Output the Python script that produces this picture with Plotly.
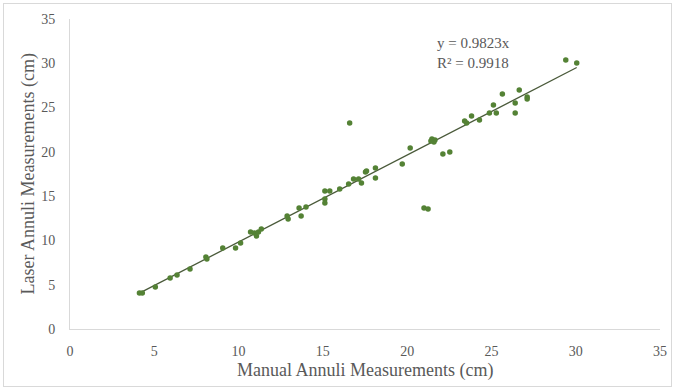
import plotly.graph_objects as go

manual = [4.12, 4.29, 5.06, 5.94, 6.35, 7.12, 8.06, 8.12, 9.06, 9.82, 10.12, 10.71, 10.94, 11.06, 11.18, 11.35,
          12.88, 12.94, 13.59, 14.0, 13.71, 15.12, 15.41, 15.12, 15.12, 16.0, 16.53, 16.82, 17.12, 17.29, 17.53,
          17.59, 18.12, 18.12, 16.59, 19.71, 20.18, 21.47, 21.65, 21.59, 21.41, 22.12, 22.53, 21.0, 21.24,
          23.41, 23.53, 23.82, 24.29, 24.88, 25.12, 25.29, 25.65, 26.41, 26.41, 26.65, 27.12, 27.12, 29.41, 30.06]
laser = [4.06, 4.06, 4.74, 5.76, 6.10, 6.77, 8.13, 7.90, 9.15, 9.15, 9.71, 10.95, 10.84, 10.50, 10.95, 11.29,
         12.76, 12.42, 13.66, 13.77, 12.76, 15.58, 15.58, 14.68, 14.23, 15.81, 16.37, 16.94, 16.94, 16.48, 17.73,
         17.84, 18.18, 17.05, 23.26, 18.63, 20.44, 21.45, 21.34, 21.11, 21.23, 19.76, 19.98, 13.66, 13.55,
         23.48, 23.26, 24.05, 23.60, 24.39, 25.29, 24.39, 26.53, 25.52, 24.39, 26.98, 26.19, 25.97, 30.37, 30.03]
slope = 0.9823
r2 = 0.9918
tick_vals = [0, 5, 10, 15, 20, 25, 30, 35]

xmin, xmax = min(manual), max(manual)
fit_x = [xmin, xmax]
fit_y = [slope * v for v in fit_x]

font_family = "Liberation Serif, Times New Roman, serif"
gray = "#595959"

fig = go.Figure()
fig.add_trace(go.Scatter(x=fit_x, y=fit_y, mode="lines",
                         line=dict(color="#4a5a3a", width=1.3), showlegend=False, hoverinfo="skip"))
fig.add_trace(go.Scatter(x=manual, y=laser, mode="markers",
                         marker=dict(color="#548235", size=5.5, line=dict(width=0)), showlegend=False))

fig.update_layout(
    width=674, height=390,
    margin=dict(l=70, r=14, t=19, b=61),
    paper_bgcolor="white", plot_bgcolor="white",
    font=dict(family=font_family, color=gray, size=13),
    xaxis=dict(range=[0, 35], tickvals=tick_vals, showgrid=False, zeroline=False, automargin=False,
               showline=True, linecolor="#d9d9d9", linewidth=1, ticks="", ticklabelstandoff=9,
               tickfont=dict(size=14, color=gray)),
    yaxis=dict(range=[0, 35], tickvals=tick_vals, showgrid=False, zeroline=False, automargin=False,
               showline=True, linecolor="#d9d9d9", linewidth=1, ticks="outside", ticklen=3,
               tickcolor="rgba(0,0,0,0)", ticklabelstandoff=8,
               tickfont=dict(size=14, color=gray)),
    annotations=[
        dict(xref="paper", yref="paper", x=0.619, y=0.89, xanchor="left", yanchor="middle",
             text=f"y = {slope}x<br>R² = {r2}", showarrow=False, align="left",
             font=dict(size=15, color=gray)),
        dict(xref="paper", yref="paper", x=0.5, y=-0.135, xanchor="center", yanchor="middle",
             text="Manual Annuli Measurements (cm)", showarrow=False,
             font=dict(size=18, color=gray)),
        dict(xref="paper", yref="paper", x=-0.072, y=0.5, xanchor="center", yanchor="middle",
             text="Laser Annuli Measurements (cm)", showarrow=False, textangle=-90,
             font=dict(size=18, color=gray)),
    ],
)

post = (
    "document.body.style.margin='0';document.body.style.padding='0';"
    "var d=document.createElement('div');"
    "d.style.cssText='position:absolute;left:3px;top:3px;width:669px;height:384px;"
    "border:1px solid #d9d9d9;pointer-events:none;z-index:1000;box-sizing:border-box;';"
    "document.body.appendChild(d);"
)
fig.write_html("out.html", post_script=post, config={"displayModeBar": False})
